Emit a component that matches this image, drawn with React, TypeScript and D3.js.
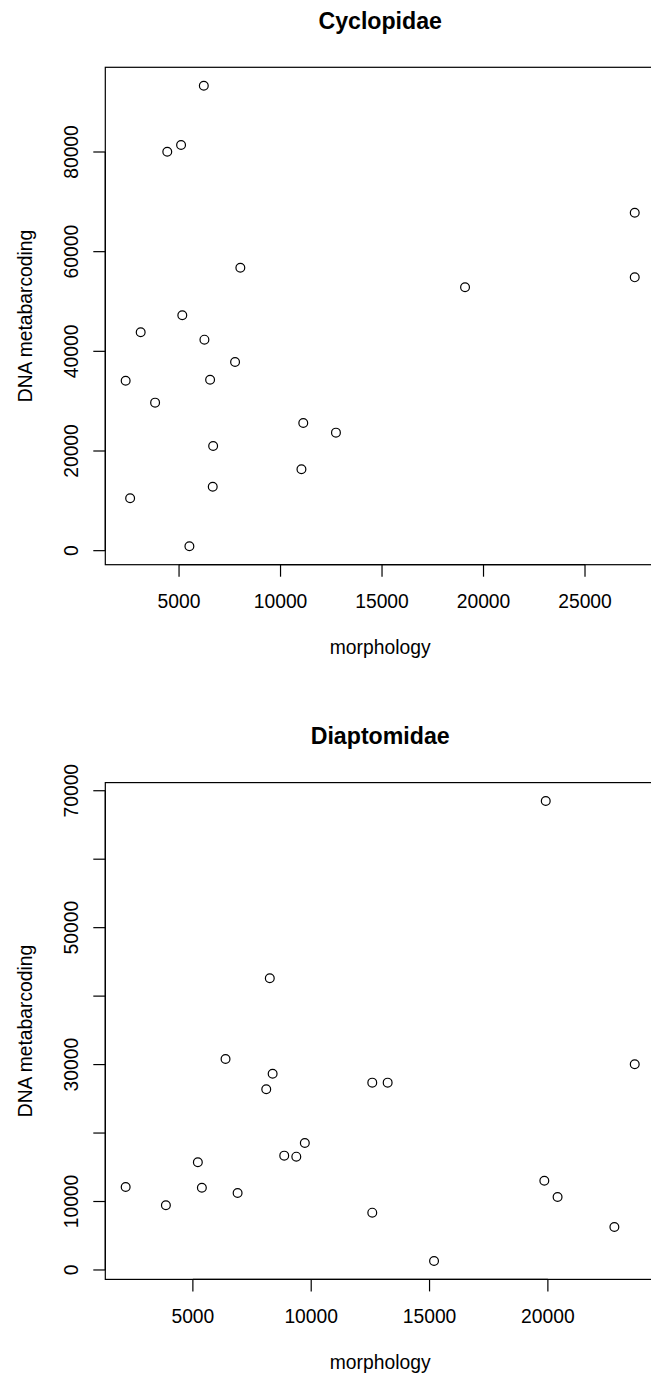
import React from "react";
import * as d3 from "d3";

// ---- Data ----
const cyclopidaeMorphology = [6220, 4420, 5100, 8020, 5160, 3110, 6250, 7760, 2370, 6530, 3820, 11120, 12730, 6680, 11030, 6660, 2590, 5510, 27450, 27450, 19090];
const cyclopidaeDNA = [93300, 80050, 81400, 56780, 47230, 43820, 42340, 37860, 34110, 34310, 29700, 25620, 23680, 21010, 16330, 12840, 10510, 880, 67820, 54850, 52850];

const diaptomidaeMorphology = [19910, 8250, 6380, 8370, 8100, 9730, 8860, 9370, 5210, 2160, 5380, 6890, 3860, 12580, 13230, 23670, 19850, 20410, 12580, 22810, 15190];
const diaptomidaeDNA = [68500, 42600, 30820, 28670, 26390, 18550, 16700, 16550, 15730, 12120, 12020, 11250, 9450, 27360, 27360, 30040, 13040, 10660, 8370, 6280, 1310];

const cyclopidaeXTicks = [5000, 10000, 15000, 20000, 25000];
const cyclopidaeYTicks = [0, 20000, 40000, 60000, 80000];
const cyclopidaeYLabels = [0, 20000, 40000, 60000, 80000];

const diaptomidaeXTicks = [5000, 10000, 15000, 20000];
const diaptomidaeYTicks = [0, 10000, 20000, 30000, 40000, 50000, 60000, 70000];
const diaptomidaeYLabels = [0, 10000, 30000, 50000, 70000];

const xLabel = "morphology";
const yLabel = "DNA metabarcoding";

// ---- Layout ----
const W = 651;
const H = 1378;
const FONT = "'Liberation Sans', Arial, Helvetica, sans-serif";
const FS = 19.3;
const LEFT = 105.3;
const RIGHT = 655.1;

function rDomain(v: number[]): [number, number] {
  const [lo, hi] = d3.extent(v) as [number, number];
  const pad = (hi - lo) * 0.04;
  return [lo - pad, hi + pad];
}

type PanelProps = {
  title: string;
  top: number;
  bottom: number;
  xs: number[];
  ys: number[];
  xTicks: number[];
  yTicks: number[];
  yLabels: number[];
};

function Panel({ title, top, bottom, xs, ys, xTicks, yTicks, yLabels }: PanelProps) {
  const x = d3.scaleLinear().domain(rDomain(xs)).range([LEFT, RIGHT]);
  const y = d3.scaleLinear().domain(rDomain(ys)).range([bottom, top]);
  const tickLen = 12;
  const stroke = "#000";
  const xt0 = x(xTicks[0]);
  const xt1 = x(xTicks[xTicks.length - 1]);
  const yt0 = y(yTicks[0]);
  const yt1 = y(yTicks[yTicks.length - 1]);
  return (
    <g>
      {/* title */}
      <text
        x={(LEFT + RIGHT) / 2}
        y={top - 38.5}
        textAnchor="middle"
        fontFamily={FONT}
        fontWeight="bold"
        fontSize={FS * 1.2}
      >
        {title}
      </text>
      {/* box */}
      <rect x={LEFT} y={top} width={RIGHT - LEFT} height={bottom - top} fill="none" stroke={stroke} strokeWidth={1.2} />
      {/* x axis */}
      <line x1={xt0} x2={xt1} y1={bottom} y2={bottom} stroke={stroke} strokeWidth={1.2} />
      {xTicks.map((t) => (
        <g key={"xt" + t}>
          <line x1={x(t)} x2={x(t)} y1={bottom} y2={bottom + tickLen} stroke={stroke} strokeWidth={1.2} />
          <text x={x(t)} y={bottom + 43.2} textAnchor="middle" fontFamily={FONT} fontSize={FS}>
            {String(t)}
          </text>
        </g>
      ))}
      {/* y axis */}
      <line x1={LEFT} x2={LEFT} y1={yt0} y2={yt1} stroke={stroke} strokeWidth={1.2} />
      {yTicks.map((t) => (
        <line key={"yt" + t} x1={LEFT} x2={LEFT - tickLen} y1={y(t)} y2={y(t)} stroke={stroke} strokeWidth={1.2} />
      ))}
      {yLabels.map((t) => (
        <text
          key={"yl" + t}
          transform={`translate(${LEFT - 27.4},${y(t)}) rotate(-90)`}
          textAnchor="middle"
          fontFamily={FONT}
          fontSize={FS}
        >
          {String(t)}
        </text>
      ))}
      {/* axis titles */}
      <text x={(LEFT + RIGHT) / 2} y={bottom + 89.5} textAnchor="middle" fontFamily={FONT} fontSize={FS}>
        {xLabel}
      </text>
      <text
        transform={`translate(${LEFT - 73.8},${(top + bottom) / 2}) rotate(-90)`}
        textAnchor="middle"
        fontFamily={FONT}
        fontSize={FS}
      >
        {yLabel}
      </text>
      {/* points */}
      {xs.map((v, i) => (
        <circle key={"p" + i} cx={x(v)} cy={y(ys[i])} r={4.4} fill="none" stroke={stroke} strokeWidth={1.2} />
      ))}
    </g>
  );
}

export default function App() {
  return (
    <svg
      width={W}
      height={H}
      viewBox={`0 0 ${W} ${H}`}
      style={{ position: "absolute", left: 0, top: 0, background: "#fff", overflow: "hidden" }}
    >
      <rect x={0} y={0} width={W} height={H} fill="#fff" />
      <Panel
        title="Cyclopidae"
        top={67.3}
        bottom={564.7}
        xs={cyclopidaeMorphology}
        ys={cyclopidaeDNA}
        xTicks={cyclopidaeXTicks}
        yTicks={cyclopidaeYTicks}
        yLabels={cyclopidaeYLabels}
      />
      <Panel
        title="Diaptomidae"
        top={782.6}
        bottom={1279.4}
        xs={diaptomidaeMorphology}
        ys={diaptomidaeDNA}
        xTicks={diaptomidaeXTicks}
        yTicks={diaptomidaeYTicks}
        yLabels={diaptomidaeYLabels}
      />
    </svg>
  );
}
